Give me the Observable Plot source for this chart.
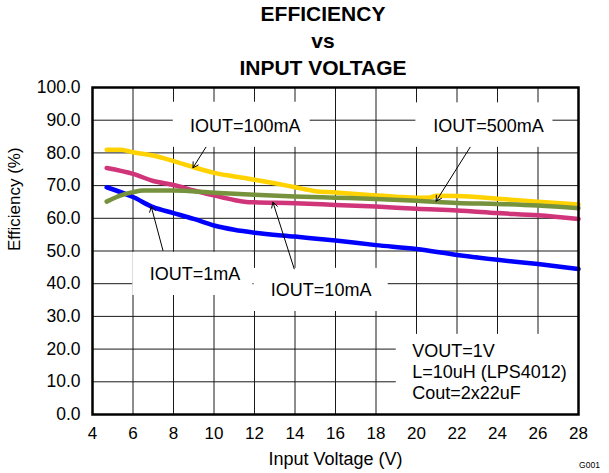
<!DOCTYPE html>
<html>
<head>
<meta charset="utf-8">
<script src="https://cdn.jsdelivr.net/npm/d3@7"></script>
<script src="https://cdn.jsdelivr.net/npm/@observablehq/plot@0.6"></script>
<style>
  body { margin: 0; background: #fff; font-family: "Liberation Sans", Arial, sans-serif; }
  #title { width: 572px; padding-left: 37px; height: 79px; text-align: center; font-weight: bold;
           font-size: 21px; line-height: 27px; color: #000; }
  #chart svg { display: block; }
</style>
</head>
<body>
<div id="title"></div>
<div id="chart"></div>
<script>
// ---- Text ----
const titleLines = ["EFFICIENCY", "vs", "INPUT VOLTAGE"];
const xLabel = "Input Voltage (V)";
const yLabel = "Efficiency (%)";
const figId = "G001";

// ---- Ticks ----
const xTicks = [4, 6, 8, 10, 12, 14, 16, 18, 20, 22, 24, 26, 28];
const yTicks = [0, 10, 20, 30, 40, 50, 60, 70, 80, 90, 100];

// ---- Series ----
const seriesNames = ["IOUT=1mA", "IOUT=10mA", "IOUT=100mA", "IOUT=500mA"];
const seriesColors = ["#0000FF", "#D0357A", "#FFD200", "#76923C"];

const vin1mA = [4.7, 6, 7, 8, 9, 10, 11, 12, 14, 16, 18, 20, 22, 24, 26, 28];
const eff1mA = [69.5, 66.5, 63.4, 61.6, 59.8, 57.8, 56.5, 55.6, 54.4, 53.2, 51.8, 50.6, 48.8, 47.3, 46.0, 44.5];

const vin10mA = [4.7, 6, 7, 8, 9, 10, 11, 11.6, 12, 14, 16, 18, 20, 22, 24, 26, 28];
const eff10mA = [75.4, 73.6, 71.4, 70.2, 68.5, 67.0, 65.6, 65.0, 64.9, 64.6, 64.1, 63.6, 62.9, 62.4, 61.6, 60.9, 59.8];

const vin100mA = [4.7, 5.4, 6, 7, 8, 9, 10, 11, 12, 13, 14, 15, 16, 17, 18, 19, 20, 20.6, 21, 22, 24, 26, 28];
const eff100mA = [81.0, 81.0, 80.2, 79.2, 77.5, 75.6, 73.9, 72.8, 71.8, 70.7, 69.5, 68.3, 67.9, 67.4, 67.0, 66.6, 66.3, 66.3, 66.9, 66.8, 66.0, 65.1, 64.2];

const vin500mA = [4.7, 5.4, 6, 6.5, 8, 10, 12, 14, 16, 18, 20, 22, 24, 26, 28];
const eff500mA = [65.1, 67.0, 68.0, 68.5, 68.5, 67.8, 67.2, 66.7, 66.3, 65.9, 65.4, 64.7, 64.4, 63.9, 63.1];

// ---- Annotations (data coordinates) ----
const annoLabels = ["IOUT=100mA", "IOUT=500mA", "IOUT=1mA", "IOUT=10mA"];
const boxX1 = [7.99, 19.97, 5.99, 11.98];
const boxX2 = [14.75, 26.74, 11.92, 18.6];
const boxY1 = [81.7, 81.7, 36.4, 31.5];
const boxY2 = [95.5, 95.3, 49.6, 44.7];
const labelX = [11.54, 23.56, 9.06, 15.29];
const labelY = [88.1, 88.1, 43.0, 37.9];
const arrowX1 = [9.60, 22.65, 7.48, 13.96];
const arrowY1 = [81.74, 81.74, 50.15, 44.56];
const arrowX2 = [8.96, 20.97, 6.90, 12.91];
const arrowY2 = [75.44, 65.23, 63.61, 64.92];

const condLines = ["VOUT=1V", "L=10uH (LPS4012)", "Cout=2x22uF"];
const condX = 19.79;
const condY = [19.4, 12.9, 6.5];
const condBox = {x1: 19.0, x2: 28, y1: 0, y2: 24.5};

// ---- Build ----
document.getElementById("title").innerHTML = titleLines.map(t => `<div>${t}</div>`).join("");

const vins = [vin1mA, vin10mA, vin100mA, vin500mA];
const effs = [eff1mA, eff10mA, eff100mA, eff500mA];
const data = seriesNames.flatMap((s, i) => vins[i].map((v, j) => ({series: s, v, e: effs[i][j]})));

const annos = annoLabels.map((t, i) => ({
  t, bx1: boxX1[i], bx2: boxX2[i], by1: boxY1[i], by2: boxY2[i],
  lx: labelX[i], ly: labelY[i], ax1: arrowX1[i], ay1: arrowY1[i], ax2: arrowX2[i], ay2: arrowY2[i]
}));
const conds = condLines.map((t, i) => ({t, x: condX, y: condY[i]}));

const font = "Liberation Sans, Arial, sans-serif";

const chart = Plot.plot({
  width: 609,
  height: 394,
  marginTop: 8,
  marginRight: 31,
  marginBottom: 59,
  marginLeft: 92,
  style: {fontFamily: font, fontSize: "17px", color: "#000", background: "#fff", overflow: "visible"},
  x: {domain: [4, 28], label: null},
  y: {domain: [0, 100], label: null},
  color: {domain: seriesNames, range: seriesColors},
  marks: [
    Plot.ruleX(xTicks, {stroke: "#1a1a1a", strokeWidth: 1}),
    Plot.ruleY(yTicks, {stroke: "#1a1a1a", strokeWidth: 1}),
    Plot.line(data, {x: "v", y: "e", z: "series", stroke: "series", strokeWidth: 4.5, curve: "monotone-x"}),
    Plot.rect(annos, {x1: "bx1", x2: "bx2", y1: "by1", y2: "by2", fill: "#fff"}),
    Plot.rect([condBox], {x1: "x1", x2: "x2", y1: "y1", y2: "y2", fill: "#fff"}),
    Plot.text(annos, {x: "lx", y: "ly", text: "t", fontSize: 18, fill: "#000", lineAnchor: "middle"}),
    Plot.text(conds, {x: "x", y: "y", text: "t", fontSize: 18, fill: "#000", textAnchor: "start", lineAnchor: "middle"}),
    Plot.arrow(annos, {x1: "ax1", y1: "ay1", x2: "ax2", y2: "ay2", stroke: "#000", strokeWidth: 1, headLength: 9}),
    Plot.frame({stroke: "#000", strokeWidth: 2.5}),
    Plot.axisX({ticks: xTicks, tickSize: 0, tickPadding: 12, fontSize: 17, label: null, tickFormat: d => String(d)}),
    Plot.axisY({ticks: yTicks, tickSize: 0, tickPadding: 12, fontSize: 17.5, label: null, tickFormat: d => d.toFixed(1)}),
    Plot.text([yLabel], {frameAnchor: "left", rotate: -90, dx: -78, fontSize: 17, fill: "#000", lineAnchor: "middle"}),
    Plot.text([xLabel], {frameAnchor: "bottom", dy: 45, fontSize: 18, fill: "#000", lineAnchor: "middle"}),
    Plot.text([figId], {frameAnchor: "bottom-right", dx: 11, dy: 51, fontSize: 8.5, fill: "#000", textAnchor: "middle", lineAnchor: "middle"})
  ]
});
document.getElementById("chart").appendChild(chart);
</script>
</body>
</html>
